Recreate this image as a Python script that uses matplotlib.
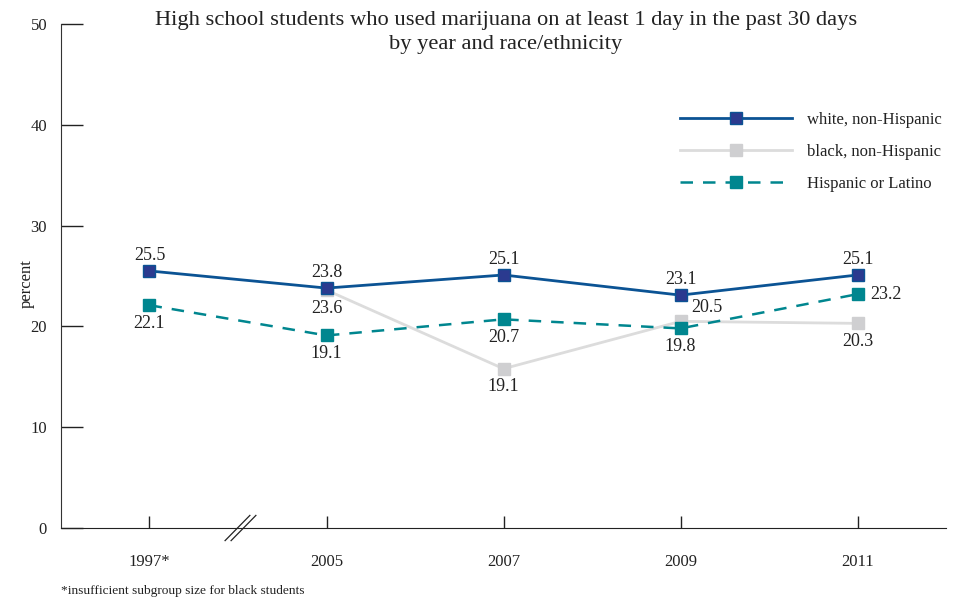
import numpy as np
import matplotlib
matplotlib.use('Agg')
import matplotlib.pyplot as plt
from matplotlib.lines import Line2D

plt.rcParams['font.family'] = ['Liberation Serif', 'DejaVu Serif']

years = ['1997*', '2005', '2007', '2009', '2011']
white = [25.5, 23.8, 25.1, 23.1, 25.1]
black = [np.nan, 23.6, 15.8, 20.5, 20.3]
black_labels = ['', '23.6', '19.1', '20.5', '20.3']
hispanic = [22.1, 19.1, 20.7, 19.8, 23.2]

c_white = '#0b5394'
c_white_face = '#2b3a8f'
c_black = '#dcdcdc'
c_black_mark = '#cfcfd1'
c_hisp = '#00868f'
txt = '#222222'

fig = plt.figure(figsize=(9.62, 5.99), dpi=100)
ax = fig.add_axes([0.0634, 0.1185, 0.92, 0.8415])
x = np.arange(len(years))

ax.plot(x, white, color=c_white, lw=2, marker='s', ms=9,
        mfc=c_white_face, mec=c_white, mew=1, zorder=4)
ax.plot(x, black, color=c_black, lw=2, marker='s', ms=9,
        mfc=c_black_mark, mec=c_black_mark, zorder=2)
ax.plot(x, hispanic, color=c_hisp, lw=1.8, ls=(0, (5, 4)), marker='s', ms=9,
        mfc=c_hisp, mec=c_hisp, zorder=3)

fs = 13
for i, v in enumerate(white):
    ax.annotate(f'{v:.1f}', (x[i], v), xytext=(0, 5), textcoords='offset points',
                ha='center', va='bottom', fontsize=fs, color=txt)
for i, v in enumerate(black):
    if np.isnan(v):
        continue
    if i == 3:
        ax.annotate(black_labels[i], (x[i], v), xytext=(19, 4), textcoords='offset points',
                    ha='center', va='bottom', fontsize=fs, color=txt)
    else:
        ax.annotate(black_labels[i], (x[i], v), xytext=(0, -7), textcoords='offset points',
                    ha='center', va='top', fontsize=fs, color=txt)
for i, v in enumerate(hispanic):
    if i == 4:
        ax.annotate(f'{v:.1f}', (x[i], v), xytext=(9, 0), textcoords='offset points',
                    ha='left', va='center', fontsize=fs, color=txt)
    else:
        ax.annotate(f'{v:.1f}', (x[i], v), xytext=(0, -7), textcoords='offset points',
                    ha='center', va='top', fontsize=fs, color=txt)

ax.set_xlim(-0.5, 4.5)
ax.set_ylim(0, 50)
ax.set_xticks(x)
ax.set_xticklabels(years, fontsize=12, color=txt)
ax.set_yticks([0, 10, 20, 30, 40, 50])
ax.set_yticklabels(['0', '10', '20', '30', '40', '50'], fontsize=12, color=txt)
ax.tick_params(axis='y', direction='in', length=16, width=1, pad=10, colors=txt)
ax.tick_params(axis='x', direction='in', length=9, width=1, pad=19, colors=txt)
for lab in ax.get_yticklabels():
    lab.set_verticalalignment('center_baseline')
ax.spines['top'].set_visible(False)
ax.spines['right'].set_visible(False)
ax.spines['left'].set_color('#333333')
ax.spines['bottom'].set_color(txt)

# axis break marks between 1997 and 2005
for bx in (0.497, 0.531):
    ax.plot([bx - 0.07, bx + 0.07], [-1.25, 1.25], color=txt, lw=0.9,
            clip_on=False, zorder=5)

ax.set_ylabel('percent', fontsize=12, color=txt)
ax.yaxis.set_label_coords(-0.03, 0.485)

handles = [
    Line2D([], [], color=c_white, lw=2, marker='s', ms=9, mfc=c_white_face, mec=c_white),
    Line2D([], [], color=c_black, lw=2, marker='s', ms=9, mfc=c_black_mark, mec=c_black_mark),
    Line2D([], [], color=c_hisp, lw=1.8, ls=(0, (5, 4)), marker='s', ms=9, mfc=c_hisp, mec=c_hisp),
]
ax.legend(handles, ['white, non-Hispanic', 'black, non-Hispanic', 'Hispanic or Latino'],
          loc='upper left', bbox_to_anchor=(0.683, 0.855), frameon=False, fontsize=12,
          handlelength=6.7, handletextpad=0.9, labelspacing=0.95, labelcolor=txt)

fig.text(0.526, 0.981, 'High school students who used marijuana on at least 1 day in the past 30 days\nby year and race/ethnicity',
         ha='center', va='top', fontsize=16.2, color=txt, linespacing=1.3)
fig.text(0.063, 0.003, '*insufficient subgroup size for black students', fontsize=9.6,
         color=txt, ha='left', va='bottom')

fig.savefig('out.png', dpi=100)
